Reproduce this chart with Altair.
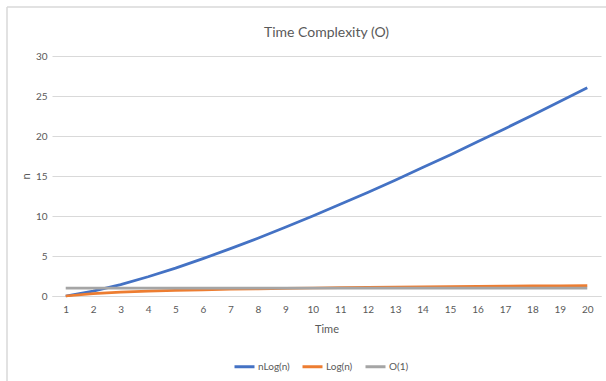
import altair as alt
import pandas as pd

time = list(range(1, 21))
nlogn = [0.0, 0.60, 1.43, 2.41, 3.49, 4.67, 5.92, 7.22, 8.59, 10.0,
         11.46, 12.95, 14.48, 16.05, 17.64, 19.27, 20.92, 22.59, 24.30, 26.02]
logn = [0.0, 0.30, 0.48, 0.60, 0.70, 0.78, 0.85, 0.90, 0.95, 1.0,
        1.04, 1.08, 1.11, 1.15, 1.18, 1.20, 1.23, 1.26, 1.28, 1.30]
o1 = [1.0] * 20
series_names = ["nLog(n)", "Log(n)", "O(1)"]
series_colors = ["#4472C4", "#ED7D31", "#A5A5A5"]
y_ticks = [0, 5, 10, 15, 20, 25, 30]

rows = []
for name, vals in zip(series_names, [nlogn, logn, o1]):
    for t, v in zip(time, vals):
        rows.append({"Time": t, "value": v, "series": name})
df = pd.DataFrame(rows)

FONT = "Lato"
TXT = "#595959"
GRID = "#D9D9D9"

lines = alt.Chart(df).mark_line(strokeWidth=2.75).encode(
    x=alt.X("Time:O", scale=alt.Scale(type="point", padding=0.5),
            sort=time,
            axis=alt.Axis(title="Time", labelAngle=0, ticks=False, grid=False,
                          domainColor=GRID, labelPadding=8, titlePadding=9,
                          labelFontSize=10, titleFontSize=11,
                          labelColor=TXT, titleColor=TXT, titleFontWeight="normal")),
    y=alt.Y("value:Q", scale=alt.Scale(domain=[0, 30], nice=False),
            axis=alt.Axis(title="n", values=y_ticks, ticks=False, domain=False,
                          gridColor=GRID, labelPadding=5, titlePadding=4,
                          labelFontSize=10, titleFontSize=11,
                          labelColor=TXT, titleColor=TXT, titleFontWeight="normal")),
    color=alt.Color("series:N",
                    scale=alt.Scale(domain=series_names, range=series_colors),
                    legend=alt.Legend(title=None, orient="none", direction="horizontal",
                                      legendX=181, legendY=299,
                                      symbolType="stroke", symbolSize=400,
                                      symbolStrokeWidth=3, labelFontSize=10,
                                      labelColor=TXT, columnPadding=6,
                                      labelOffset=2)),
    order=alt.Order("Time:Q"),
)

border_df = pd.DataFrame({"a": [0]})
left_border = alt.Chart(border_df).mark_rule(color=GRID, strokeWidth=1.5).encode(
    x=alt.value(-45), y=alt.value(-49), y2=alt.value(330))
top_border = alt.Chart(border_df).mark_rule(color=GRID, strokeWidth=1.5).encode(
    x=alt.value(-45), x2=alt.value(560), y=alt.value(-49))

chart = alt.layer(left_border, top_border, lines).properties(
    width=549, height=240,
    title=alt.TitleParams("Time Complexity (O)", fontSize=14, color=TXT,
                          font=FONT, fontWeight="normal", offset=-34),
    autosize=alt.AutoSizeParams(type="none"),
    padding={"left": 52, "top": 56, "right": 5, "bottom": 85},
).configure(font=FONT).configure_view(stroke=None)

chart.save("out.html", embed_options={"renderer": "svg", "actions": False})
